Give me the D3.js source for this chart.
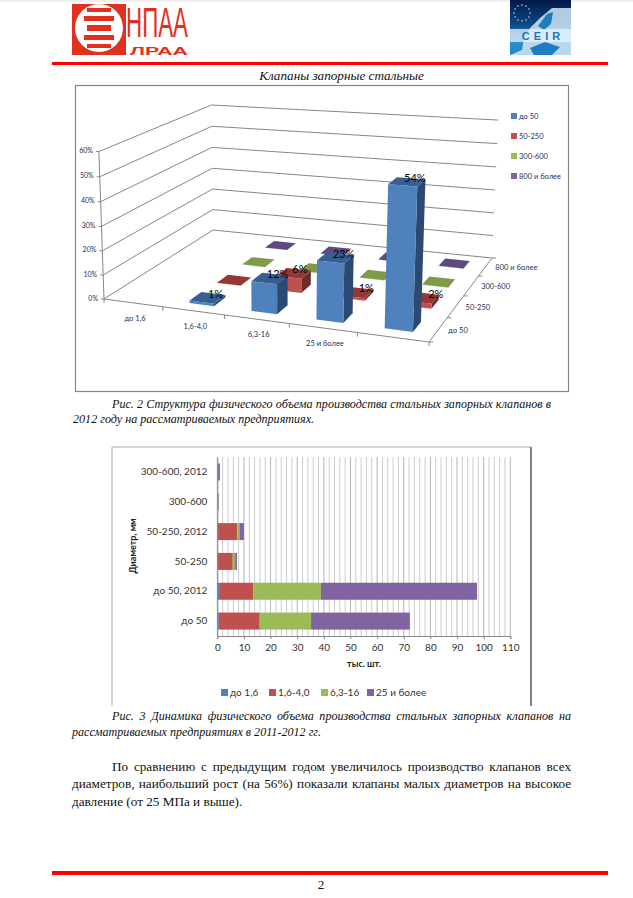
<!DOCTYPE html>
<html>
<head>
<meta charset="utf-8">
<script src="https://cdnjs.cloudflare.com/ajax/libs/d3/7.8.5/d3.min.js"></script>
<style>
  html, body { margin: 0; padding: 0; background: #fff; }
  svg { display: block; }
  .serif { font-family: "Liberation Serif", serif; fill: #111; }
  .chart { font-family: Lato, "Open Sans", sans-serif; }
</style>
</head>
<body>
<svg id="page" width="633" height="898"></svg>
<script>
// chart 1: 3d columns, percent of 2012 volume. first slot of the axis is empty in the source
const pressureLabels = ['до 1,6', '1,6-4,0', '6,3-16', '25 и более'];
const diameterLabels = ['до 50', '50-250', '300-600', '800 и более'];
const percentTicks = [0, 10, 20, 30, 40, 50, 60];
const rowDo50 = [1, 12, 23, 54];
const row50250 = [0.1, 6, 1, 2];
const row300600 = [0.1, 0.1, 0.1, 0.1];
const row800 = [0.1, 0.1, 0.1, 0.1];

// chart 2: stacked bars, thousand pieces
const barCategories = ['300-600, 2012', '300-600', '50-250, 2012', '50-250', 'до 50, 2012', 'до 50'];
const stackKeys = ['до 1,6', '1,6-4,0', '6,3-16', '25 и более'];
const stackLow = [0.1, 0.1, 0.1, 0.1, 1, 0.6];
const stackMid = [0.1, 0.1, 7.4, 5.7, 12.5, 15.3];
const stackHigh = [0.1, 0.2, 0.8, 0.9, 25.4, 19.3];
const stackTop = [0.7, 0.2, 1.7, 0.7, 58.6, 37.1];
const countTicks = d3.range(0, 111, 10);
const countMinor = d3.range(0, 111, 2);

const blue = '#4f81bd', red = '#c0504d', green = '#9bbb59', purple = '#8064a2';
const seriesColors = [blue, red, green, purple];
const sideColors = ['#2a4a73', '#6e2b29', '#5a6e33', '#483a5e'];
const topColors = ['#376092', '#953735', '#7f9a48', '#5f4a80'];

const svg = d3.select('#page');

function drawPageFurniture() {
  svg.append('rect').attr('width', 633).attr('height', 898).attr('fill', '#fff');
  svg.append('rect').attr('width', 633).attr('height', 2).attr('fill', '#efefef');
  svg.append('rect').attr('x', 52).attr('y', 62).attr('width', 556).attr('height', 3).attr('fill', '#f00');
  svg.append('rect').attr('x', 52).attr('y', 871).attr('width', 556).attr('height', 4).attr('fill', '#f00');

  // НПАА logo
  const logo = svg.append('g');
  const logoRed = '#e0301e';
  logo.append('rect').attr('x', 72).attr('y', 4).attr('width', 54).attr('height', 51).attr('fill', logoRed);
  logo.append('ellipse').attr('cx', 99).attr('cy', 28).attr('rx', 24).attr('ry', 24).attr('fill', '#fff');
  [[8, 4, 12], [16, 5, 9], [25, 6, 12], [35, 5, 9], [44, 4, 12]].forEach(([y, h, inset]) => {
    logo.append('rect').attr('x', 75 + inset).attr('y', y).attr('width', 48 - inset * 2).attr('height', h).attr('fill', logoRed);
  });
  logo.append('text').attr('transform', 'translate(126,36.5) scale(1,1.6)')
    .attr('font-family', 'Liberation Sans Narrow, Liberation Sans').attr('font-size', 27)
    .attr('fill', logoRed).attr('textLength', 62).attr('lengthAdjust', 'spacingAndGlyphs').text('НПАА');
  logo.append('text').attr('transform', 'translate(130,55) scale(1,0.9)')
    .attr('font-family', 'Liberation Sans').attr('font-size', 12).attr('font-weight', 'bold')
    .attr('fill', logoRed).attr('textLength', 58).attr('lengthAdjust', 'spacingAndGlyphs').text('ЛРАА');

  // CEIR logo
  const defs = svg.append('defs');
  const grad = defs.append('linearGradient').attr('id', 'ceirBg').attr('x1', 0).attr('y1', 0).attr('x2', 0).attr('y2', 1);
  [[0, '#03184a'], [0.45, '#0c4a86'], [0.75, '#2d8fc9'], [1, '#1f86c8']].forEach(([o, c]) => {
    grad.append('stop').attr('offset', o).attr('stop-color', c);
  });
  const ceir = svg.append('g');
  ceir.append('rect').attr('x', 510).attr('y', 0).attr('width', 61).attr('height', 55).attr('fill', 'url(#ceirBg)');
  ceir.append('path').attr('d', 'M571,8 L552,8 L540,18 L530,28 L524,38 L522,50 L510,55 L571,55 Z').attr('fill', '#cfe6f5').attr('opacity', 0.85);
  ceir.append('path').attr('d', 'M547,14 L553,12 L551,24 L544,30 L538,26 Z M530,48 L545,42 L560,47 L552,55 L534,55 Z').attr('fill', '#1f7cc0');
  ceir.append('rect').attr('x', 510).attr('y', 29).attr('width', 61).attr('height', 13).attr('fill', '#e8f3fa').attr('opacity', 0.75);
  ceir.append('text').attr('x', 543).attr('y', 40).attr('text-anchor', 'middle')
    .attr('font-family', 'Liberation Sans').attr('font-size', 11).attr('font-weight', 'bold')
    .attr('letter-spacing', 4).attr('fill', '#1c78b8').text('CEIR');
  d3.range(12).forEach((i) => {
    const a = i / 12 * 2 * Math.PI;
    ceir.append('circle').attr('cx', 522 + 8 * Math.cos(a)).attr('cy', 13 + 8 * Math.sin(a)).attr('r', 0.8).attr('fill', '#c9d8e8');
  });
}

// justified line: word spacing stretched so the line ends at x2
function textLine(str, x, y, x2, italic) {
  const t = svg.append('text').attr('class', 'serif').attr('x', x).attr('y', y)
    .attr('font-size', italic ? 12.1 : 13.2).attr('font-style', italic ? 'italic' : 'normal').text(str);
  if (x2) {
    const gaps = str.split(' ').length - 1;
    const extra = (x2 - x - t.node().getComputedTextLength()) / gaps;
    t.attr('word-spacing', extra);
  }
  return t;
}

function drawTexts() {
  svg.append('text').attr('class', 'serif').attr('x', 341.5).attr('y', 80).attr('text-anchor', 'middle')
    .attr('font-size', 13.2).attr('font-style', 'italic').text('Клапаны запорные стальные');
  textLine('Рис. 2 Структура физического объема производства стальных запорных клапанов в', 112, 408, 551, true);
  textLine('2012 году на рассматриваемых предприятиях.', 73, 423, null, true);
  textLine('Рис. 3 Динамика физического объема производства стальных запорных клапанов на', 112, 720, 571, true);
  textLine('рассматриваемых предприятиях в 2011-2012 гг.', 72, 736, null, true);
  textLine('По сравнению с предыдущим годом увеличилось производство клапанов всех', 112, 771, 571, false);
  textLine('диаметров, наибольший рост (на 56%) показали клапаны малых диаметров на высокое', 72, 788, 571, false);
  textLine('давление (от 25 МПа и выше).', 72, 806, null, false);
  svg.append('text').attr('class', 'serif').attr('x', 321).attr('y', 889).attr('text-anchor', 'middle')
    .attr('font-size', 13.2).text('2');
}

function drawColumns3d() {
  const g = svg.append('g').attr('class', 'chart');
  g.append('rect').attr('x', 75.5).attr('y', 85.5).attr('width', 493).attr('height', 306)
    .attr('fill', '#fff').attr('stroke', '#868686').attr('stroke-width', 1.2);

  // floor corners in the picture, everything else goes through this projection
  const FL = [104, 299], FR = [429, 342], BR = [492, 258], BL = [213, 230];
  const dx1 = FR[0] - BR[0], dy1 = FR[1] - BR[1], dx2 = BL[0] - BR[0], dy2 = BL[1] - BR[1];
  const sx = FL[0] - FR[0] + BR[0] - BL[0], sy = FL[1] - FR[1] + BR[1] - BL[1];
  const den = dx1 * dy2 - dx2 * dy1;
  const pg = (sx * dy2 - dx2 * sy) / den;
  const ph = (dx1 * sy - sx * dy1) / den;
  const pi = -0.03, cx = 270 * pi, cy = -152;

  function project(u, v, t) {
    const w = pg * u + ph * v + 1 + pi * t;
    const x = (FR[0] - FL[0] + pg * FR[0]) * u + (BL[0] - FL[0] + ph * BL[0]) * v + FL[0] + cx * t;
    const y = (FR[1] - FL[1] + pg * FR[1]) * u + (BL[1] - FL[1] + ph * BL[1]) * v + FL[1] + cy * t;
    return [x / w, y / w];
  }

  const uScale = d3.scaleLinear().domain([0, 5]).range([0, 1]);
  const vScale = d3.scaleLinear().domain([0, 4]).range([0, 1]);
  const tScale = d3.scaleLinear().domain([0, 60]).range([0, 1]);
  const line = d3.line();
  const grid = '#868686';

  percentTicks.forEach((p) => {
    const t = tScale(p);
    g.append('path').attr('d', line([project(0, 0, t), project(0, 1, t), project(1, 1, t)]))
      .attr('fill', 'none').attr('stroke', grid);
    const a = project(0, 0, t);
    g.append('line').attr('x1', a[0] - 3).attr('y1', a[1]).attr('x2', a[0]).attr('y2', a[1]).attr('stroke', grid);
    g.append('text').attr('x', a[0] - 6).attr('y', a[1] + 1.5).attr('text-anchor', 'end')
      .attr('font-size', 7).attr('fill', '#1f2f4f').text(p + '%');
  });
  g.append('path').attr('d', line([project(0, 0, 1), project(0, 0, 0), project(1, 0, 0), project(1, 1, 0)]))
    .attr('fill', 'none').attr('stroke', grid);

  d3.range(6).forEach((i) => {
    const a = project(uScale(i), 0, 0);
    g.append('line').attr('x1', a[0]).attr('y1', a[1]).attr('x2', a[0]).attr('y2', a[1] + 4).attr('stroke', grid);
  });
  pressureLabels.forEach((name, i) => {
    const a = project(uScale(i + 0.5), 0, 0);
    g.append('text').attr('x', a[0] + 2).attr('y', a[1] + 18).attr('text-anchor', 'middle')
      .attr('font-size', 7.5).attr('fill', '#1f2f4f').text(name);
  });
  d3.range(5).forEach((i) => {
    const a = project(1, vScale(i), 0);
    g.append('line').attr('x1', a[0]).attr('y1', a[1]).attr('x2', a[0] + 4).attr('y2', a[1]).attr('stroke', grid);
  });
  diameterLabels.forEach((name, i) => {
    const a = project(1, vScale(i + 0.5), 0);
    g.append('text').attr('x', a[0] + 10).attr('y', a[1] + 3).attr('font-size', 7.5)
      .attr('fill', '#1f2f4f').text(name);
  });

  // back row first so the front columns cover it
  const rows = [rowDo50, row50250, row300600, row800];
  const labels = [];
  d3.range(3, -1, -1).forEach((r) => {
    rows[r].forEach((val, c) => {
      const slot = c + 1;
      const u0 = uScale(slot + 0.3), u1 = uScale(slot + 0.7);
      const v0 = vScale(r + 0.29), v1 = vScale(r + 0.71);
      const t = tScale(val);
      const face = (pts, fill) => g.append('path').attr('d', line(pts) + 'Z').attr('fill', fill);
      face([project(u1, v0, 0), project(u1, v1, 0), project(u1, v1, t), project(u1, v0, t)], sideColors[r]);
      face([project(u0, v0, 0), project(u1, v0, 0), project(u1, v0, t), project(u0, v0, t)], seriesColors[r]);
      face([project(u0, v0, t), project(u1, v0, t), project(u1, v1, t), project(u0, v1, t)], topColors[r]);
      if (val >= 1) {
        const top = project((u0 + u1) / 2, (v0 + v1) / 2, t);
        // labels of the red row sit further right the further along the axis they are
        const shift = r === 1 ? 4 * slot - 2 : 8;
        labels.push({ val, x: top[0] + shift, y: top[1] });
      }
    });
  });
  g.selectAll('text.pct').data(labels).join('text').attr('class', 'pct')
    .attr('x', (d) => d.x).attr('y', (d) => d.y).attr('text-anchor', 'middle')
    .attr('font-size', 11).attr('fill', '#000').text((d) => d.val + '%');

  diameterLabels.forEach((name, i) => {
    const y = 116 + i * 20;
    g.append('rect').attr('x', 511).attr('y', y - 3).attr('width', 6).attr('height', 6).attr('fill', seriesColors[i]);
    g.append('text').attr('x', 519).attr('y', y + 2.5).attr('font-size', 7.5).attr('fill', '#1f2f4f').text(name);
  });
}

function drawStackedBars() {
  const g = svg.append('g').attr('class', 'chart');
  g.append('path').attr('d', 'M112,706V447H531').attr('fill', 'none').attr('stroke', '#aaa');
  g.append('line').attr('x1', 531).attr('y1', 447).attr('x2', 531).attr('y2', 706).attr('stroke', '#808080').attr('stroke-width', 2);

  const x = d3.scaleLinear().domain([0, 110]).range([217.3, 510.3]);
  const y = d3.scaleBand().domain(barCategories).range([457, 636]).paddingInner(0.43).paddingOuter(0.215);

  g.append('g').selectAll('line').data(countMinor).join('line')
    .attr('x1', (d) => x(d)).attr('x2', (d) => x(d)).attr('y1', 457).attr('y2', 636)
    .attr('stroke', (d) => (d % 10 === 0 ? '#b4b4b4' : '#cdcdcd'));

  const table = barCategories.map((name, i) => ({
    name,
    [stackKeys[0]]: stackLow[i],
    [stackKeys[1]]: stackMid[i],
    [stackKeys[2]]: stackHigh[i],
    [stackKeys[3]]: stackTop[i],
  }));
  const layers = d3.stack().keys(stackKeys)(table);
  g.selectAll('g.layer').data(layers).join('g').attr('class', 'layer')
    .attr('fill', (d, i) => seriesColors[i])
    .selectAll('rect').data((d) => d).join('rect')
    .attr('x', (d) => x(d[0])).attr('width', (d) => x(d[1]) - x(d[0]))
    .attr('y', (d) => y(d.data.name)).attr('height', y.bandwidth());

  const axisX = g.append('g').attr('transform', 'translate(0,636)')
    .call(d3.axisBottom(x).tickValues(countTicks).tickSize(3).tickPadding(5));
  axisX.selectAll('text').attr('font-size', 10).attr('font-family', 'Lato').attr('fill', '#333');
  axisX.selectAll('line, path').attr('stroke', '#868686');

  const axisY = g.append('g').attr('transform', 'translate(217.3,0)')
    .call(d3.axisLeft(y).tickSize(0).tickPadding(10));
  axisY.selectAll('text').attr('font-size', 10).attr('font-family', 'Lato').attr('fill', '#333');
  axisY.select('path').attr('stroke', '#868686');

  g.append('text').attr('transform', 'translate(136,546) rotate(-90)').attr('text-anchor', 'middle')
    .attr('font-size', 9).attr('font-weight', 'bold').attr('fill', '#222').text('Диаметр, мм');
  g.append('text').attr('x', 364).attr('y', 667).attr('text-anchor', 'middle')
    .attr('font-size', 9).attr('font-weight', 'bold').attr('fill', '#222').text('тыс. шт.');

  const legendX = [221, 269, 321, 367];
  stackKeys.forEach((name, i) => {
    g.append('rect').attr('x', legendX[i]).attr('y', 689).attr('width', 7).attr('height', 7).attr('fill', seriesColors[i]);
    g.append('text').attr('x', legendX[i] + 9).attr('y', 696).attr('font-size', 10).attr('fill', '#333').text(name);
  });
}

drawPageFurniture();
drawColumns3d();
drawStackedBars();
drawTexts();
</script>
</body>
</html>
